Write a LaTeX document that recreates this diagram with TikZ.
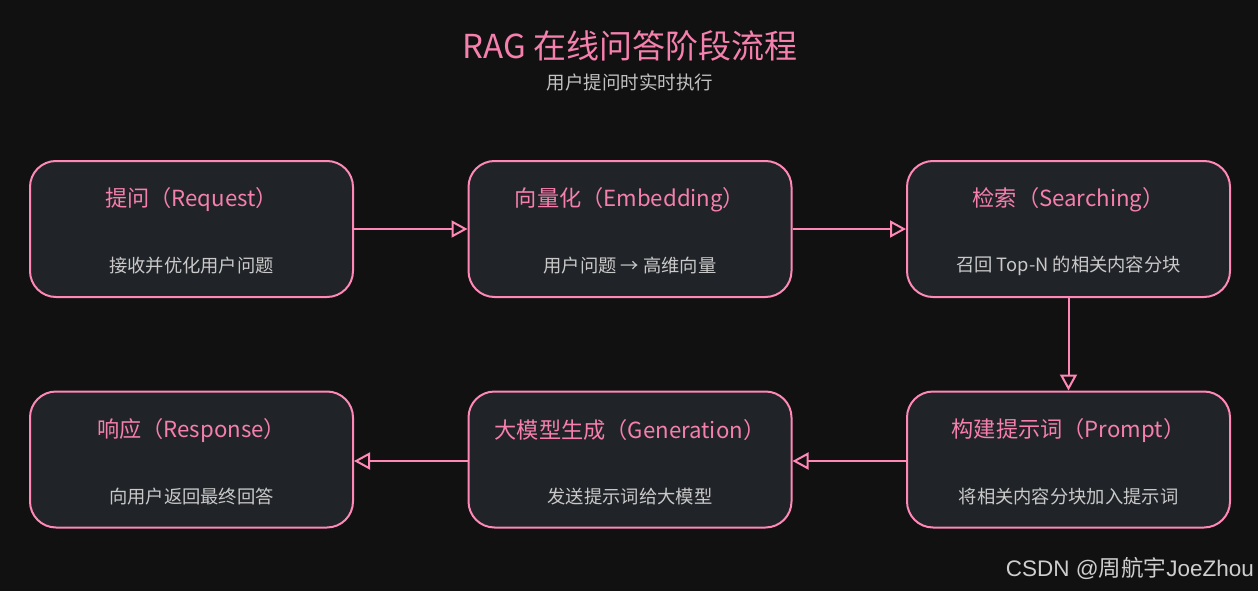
\documentclass[tikz,border=0pt]{standalone}
\usepackage{fontspec}
\setmainfont{Noto Sans CJK SC}
\newfontfamily\wmfont{Liberation Sans}
\newfontfamily\wmcjk{Noto Sans CJK SC}
\usetikzlibrary{arrows.meta,positioning}
\definecolor{bgc}{HTML}{111111}
\definecolor{boxfill}{HTML}{202327}
\definecolor{pinkline}{HTML}{FF88B6}
\definecolor{pinktext}{HTML}{F57FAD}
\definecolor{desctext}{HTML}{C9C9C9}
\definecolor{subtext}{HTML}{C2C2C2}
\tikzset{
  stepbox/.style={draw=pinkline, line width=2pt, fill=boxfill, rounded corners=26pt,
    minimum width=323pt, minimum height=136pt, inner sep=0pt},
  boxtitle/.style={text=pinktext, font=\fontsize{22.2}{26}\selectfont, inner sep=0pt, anchor=center},
  boxdesc/.style={text=desctext, font=\fontsize{18.3}{22}\selectfont, inner sep=0pt, anchor=center},
  flow/.style={draw=pinkline, line width=2pt, -{Triangle[open, length=16pt, width=17pt, line width=2pt]}}
}
\begin{document}
\begin{tikzpicture}[x=1pt,y=-1pt]
\fill[bgc] (0,0) rectangle (1258,591);
\useasboundingbox (0,0) rectangle (1258,591);

\node[text=pinktext, font=\fontsize{33}{38}\selectfont, inner sep=0pt] (title) at (630,46) {RAG 在线问答阶段流程};
\node[text=subtext, font=\fontsize{18.5}{22}\selectfont, inner sep=0pt] (subtitle) at (630,82) {用户提问时实时执行};

\node[stepbox] (b1) at (191.5,229) {};
\node[stepbox] (b2) at (630,229) {};
\node[stepbox] (b3) at (1068.5,229) {};
\node[stepbox] (b4) at (1068.5,459.5) {};
\node[stepbox] (b5) at (630,459.5) {};
\node[stepbox] (b6) at (191.5,459.5) {};

\node[boxtitle] (t1) at ([yshift=-40pt]b1.north) {提问（Request）};
\node[boxdesc]  (d1) at ([yshift=-106pt]b1.north) {接收并优化用户问题};
\node[boxtitle] (t2) at ([yshift=-40pt]b2.north) {向量化（Embedding）};
\node[boxdesc]  (d2) at ([yshift=-106pt]b2.north) {用户问题 → 高维向量};
\node[boxtitle] (t3) at ([yshift=-40pt]b3.north) {检索（Searching）};
\node[boxdesc]  (d3) at ([yshift=-106pt]b3.north) {召回 Top-N 的相关内容分块};
\node[boxtitle] (t4) at ([yshift=-40pt]b4.north) {构建提示词（Prompt）};
\node[boxdesc]  (d4) at ([yshift=-106pt]b4.north) {将相关内容分块加入提示词};
\node[boxtitle] (t5) at ([yshift=-40pt]b5.north) {大模型生成（Generation）};
\node[boxdesc]  (d5) at ([yshift=-106pt]b5.north) {发送提示词给大模型};
\node[boxtitle] (t6) at ([yshift=-40pt]b6.north) {响应（Response）};
\node[boxdesc]  (d6) at ([yshift=-106pt]b6.north) {向用户返回最终回答};

\draw[flow] (b1.east) -- (b2.west);
\draw[flow] (b2.east) -- (b3.west);
\draw[flow] (b3.south) -- (b4.north);
\draw[flow] ([yshift=-1.5pt]b4.west) -- ([yshift=-1.5pt]b5.east);
\draw[flow] ([yshift=-1.5pt]b5.west) -- ([yshift=-1.5pt]b6.east);

\node[text=desctext!90!white, font=\fontsize{22.5}{26}\selectfont, inner sep=0pt, anchor=east] (wm) at (1254,568) {\wmfont CSDN @\wmcjk 周航宇\wmfont JoeZhou};
\end{tikzpicture}
\end{document}
